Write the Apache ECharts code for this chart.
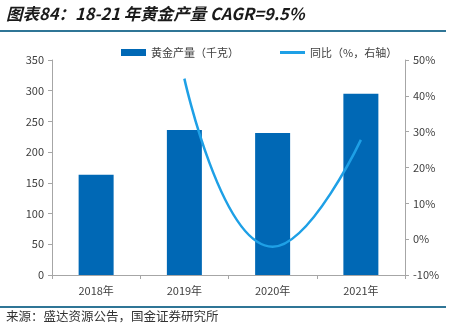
<!DOCTYPE html>
<html><head><meta charset="utf-8">
<script src="https://cdn.jsdelivr.net/npm/echarts@6/dist/echarts.min.js"></script>
<style>html,body{margin:0;padding:0;background:#fff}#c{width:451px;height:330px}</style>
</head><body><div id="c"></div>
<script>
const categories = ['2018年', '2019年', '2020年', '2021年'];
const goldOutput = [163, 236, 231, 295];
const yoyGrowth = [null, 44.8, -2.1, 27.7];
const leftTicks = { min: 0, max: 350, interval: 50 };
const rightTicks = { min: -10, max: 50, interval: 10 };
const titleText = '图表84：18-21 年黄金产量 CAGR=9.5%';
const sourceText = '来源：盛达资源公告，国金证券研究所';
const barName = '黄金产量（千克）';
const lineName = '同比（%，右轴）';

const chart = echarts.init(document.getElementById('c'), null, { renderer: 'canvas' });
const font = '"Noto Sans CJK SC", "Microsoft YaHei", sans-serif';
const axisLine = { show: true, lineStyle: { color: '#a6a6a6', width: 1 } };
chart.setOption({
  animation: false,
  textStyle: { fontFamily: font },
  graphic: [
    { type: 'text', left: 6, top: 5, style: { text: titleText, font: 'italic bold 16.5px ' + font, fill: '#1a1a1a' } },
    { type: 'rect', shape: { x: 0, y: 30, width: 446, height: 2 }, style: { fill: '#2f7596' } },
    { type: 'rect', shape: { x: 0, y: 306, width: 446, height: 2 }, style: { fill: '#2f7596' } },
    { type: 'text', left: 6, top: 310, style: { text: sourceText, font: '12.5px ' + font, fill: '#333' } }
  ],
  legend: [
    { data: [{ name: barName, icon: 'rect' }], left: 116, top: 42, itemWidth: 25, itemHeight: 7, itemGap: 4,
      textStyle: { fontSize: 11, color: '#404040', fontFamily: font } },
    { data: [{ name: lineName, icon: 'rect' }], left: 275, top: 42, itemWidth: 25, itemHeight: 3,
      textStyle: { fontSize: 11, color: '#404040', fontFamily: font } }
  ],
  grid: { left: 52, right: 46, top: 60, bottom: 55 },
  xAxis: {
    type: 'category', data: categories,
    axisLine: axisLine,
    axisTick: { show: true, alignWithLabel: false, length: 4, lineStyle: { color: '#a6a6a6' } },
    axisLabel: { fontSize: 11, color: '#404040', margin: 10 }
  },
  yAxis: [
    { type: 'value', min: leftTicks.min, max: leftTicks.max, interval: leftTicks.interval,
      axisLine: axisLine, axisTick: { show: true, length: 4, lineStyle: { color: '#a6a6a6' } },
      splitLine: { show: false }, axisLabel: { fontSize: 11, color: '#404040', margin: 8 } },
    { type: 'value', min: rightTicks.min, max: rightTicks.max, interval: rightTicks.interval, position: 'right',
      axisLine: axisLine, axisTick: { show: true, length: 4, lineStyle: { color: '#a6a6a6' } },
      splitLine: { show: false }, axisLabel: { fontSize: 11, color: '#404040', margin: 8, formatter: '{value}%' } }
  ],
  series: [
    { name: barName, type: 'bar', data: goldOutput, barWidth: 35, yAxisIndex: 0,
      itemStyle: { color: '#0068b5' } },
    { name: lineName, type: 'line', data: yoyGrowth, yAxisIndex: 1, smooth: 0.5, showSymbol: false,
      symbol: 'none', connectNulls: false,
      lineStyle: { color: '#1ea0e6', width: 2.5 }, itemStyle: { color: '#1ea0e6' } }
  ]
});
</script></body></html>
